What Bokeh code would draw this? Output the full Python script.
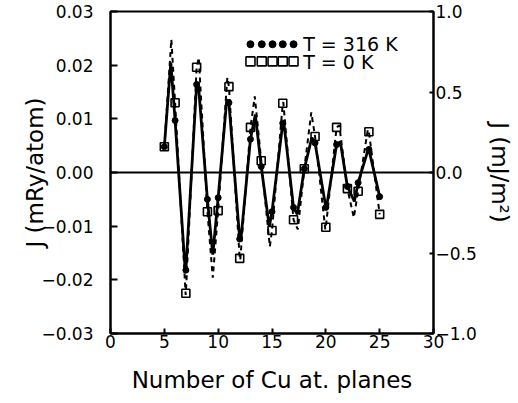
from bokeh.plotting import figure
from bokeh.models import Range1d, LinearAxis, FixedTicker, Span
from bokeh.core.properties import value
from bokeh.embed import file_html
from bokeh.resources import INLINE

# ---- data ----
N_PLANES = list(range(5, 26))
J_316K = [0.0048, 0.0097, -0.0182, 0.0164, -0.0050, -0.0047, 0.0130, -0.0124,
          0.0062, 0.0011, -0.0073, 0.0092, -0.0065, 0.0007, 0.0055, -0.0065,
          0.0052, -0.0026, -0.0019, 0.0043, -0.0045]
J_0K = [0.0048, 0.0130, -0.0225, 0.0196, -0.0073, -0.0071, 0.0160, -0.0160,
        0.0084, 0.0022, -0.0108, 0.0129, -0.0088, 0.0007, 0.0067, -0.0102,
        0.0084, -0.0030, -0.0035, 0.0076, -0.0078]

# extrema of the continuous curves
EXT_316K_N = [5.6, 6.95, 8.15, 9.5, 10.8, 12.1, 13.45, 14.75, 16.1, 17.35,
              18.7, 20.05, 21.35, 22.65, 23.95]
EXT_316K_J = [0.0205, -0.0185, 0.0168, -0.0153, 0.0136, -0.0127, 0.0108,
              -0.0101, 0.0093, -0.0078, 0.0065, -0.0066, 0.0057, -0.0054, 0.0044]
EXT_0K_N = [5.65, 6.98, 8.2, 9.5, 10.85, 12.05, 13.4, 14.8, 16.05, 17.4,
            18.65, 19.95, 21.25, 22.6, 23.9]
EXT_0K_J = [0.0248, -0.0228, 0.0214, -0.0196, 0.0177, -0.0163, 0.0142,
            -0.0138, 0.0131, -0.0106, 0.0112, -0.0106, 0.0088, -0.0084, 0.0080]

X_TICKS = [0, 5, 10, 15, 20, 25, 30]
Y_TICKS = [-0.03, -0.02, -0.01, 0.0, 0.01, 0.02, 0.03]
Y_TICK_LABELS = ["\u22120.03", "\u22120.02", "\u22120.01", "0.00", "0.01", "0.02", "0.03"]
R_TICKS = [-1.0, -0.5, 0.0, 0.5, 1.0]
R_TICK_LABELS = ["\u22121.0", "\u22120.5", "0.0", "0.5", "1.0"]

LEGEND_LABELS = ["T = 316 K", "T = 0 K"]

FONT = "DejaVu Sans"


def merged(n1, j1, n2, j2):
    pts = sorted(zip(list(n1) + list(n2), list(j1) + list(j2)))
    return [a for a, _ in pts], [b for _, b in pts]


p = figure(frame_width=323, frame_height=322,
           x_range=Range1d(0, 30), y_range=Range1d(-0.03, 0.03),
           output_backend="svg", toolbar_location=None,
           min_border_left=110, min_border_right=68,
           min_border_top=11, min_border_bottom=55)
p.grid.visible = False
p.background_fill_color = "white"
p.border_fill_color = "white"
p.outline_line_color = "black"
p.outline_line_width = 2
p.extra_y_ranges = {"mj": Range1d(-1, 1)}

right = LinearAxis(y_range_name="mj")
p.add_layout(right, "right")


def style_axis(ax, tick_in):
    ax.axis_line_color = "black"
    ax.axis_line_width = 2
    ax.major_tick_line_color = "black"
    ax.major_tick_line_width = 2
    ax.major_tick_in = tick_in
    ax.major_tick_out = 0
    ax.minor_tick_in = 0
    ax.minor_tick_out = 0
    ax.major_label_text_font = FONT
    ax.major_label_text_font_size = "17px"
    ax.major_label_text_color = "black"
    ax.axis_label_text_font = FONT
    ax.axis_label_text_font_size = "23px"
    ax.axis_label_text_font_style = "normal"
    ax.axis_label_text_color = "black"


xa = p.xaxis[0]
style_axis(xa, 5)
xa.ticker = FixedTicker(ticks=X_TICKS)
xa.major_label_standoff = 1
xa.axis_label = "Number of Cu at. planes"
xa.axis_label_standoff = 16

ya = p.yaxis[0]
style_axis(ya, 7)
ya.ticker = FixedTicker(ticks=Y_TICKS)
ya.major_label_overrides = {float(v): s for v, s in zip(Y_TICKS, Y_TICK_LABELS)}
ya.major_label_standoff = 17
ya.axis_label = "J (mRy/atom)"
ya.axis_label_standoff = -10

style_axis(right, 4)
right.ticker = FixedTicker(ticks=R_TICKS)
right.major_label_overrides = {float(v): s for v, s in zip(R_TICKS, R_TICK_LABELS)}
right.major_label_standoff = 2
right.axis_label = "J (mJ/m\u00b2)"
right.axis_label_standoff = 7

p.add_layout(Span(location=0, dimension="width", line_color="black", line_width=2))

n0, j0 = merged(N_PLANES, J_0K, EXT_0K_N, EXT_0K_J)
n3, j3 = merged(N_PLANES, J_316K, EXT_316K_N, EXT_316K_J)
p.line(n0, j0, line_color="black", line_width=2, line_dash="5 4")
p.line(n3, j3, line_color="black", line_width=2.8)

p.scatter(N_PLANES, J_0K, marker="square", size=8, line_color="black",
          line_width=1.6, fill_alpha=0)
p.scatter(N_PLANES, J_316K, marker="circle", size=6, line_color="black",
          fill_color="black")

# legend
LEG_X = [13.0, 14.05, 15.05, 16.0, 17.0]
p.scatter(LEG_X, [0.0239] * 5, marker="circle", size=7, fill_color="black",
          line_color="black")
p.scatter(LEG_X, [0.0207] * 5, marker="square", size=9, fill_alpha=0,
          line_color="black", line_width=1.6)
p.text(x=[17.9, 17.9], y=[0.0239, 0.0205], text=LEGEND_LABELS,
       text_baseline="middle", text_align="left",
       text_font=value(FONT), text_font_size="19px", text_color="black")

open("out.html", "w").write(file_html(p, INLINE))
